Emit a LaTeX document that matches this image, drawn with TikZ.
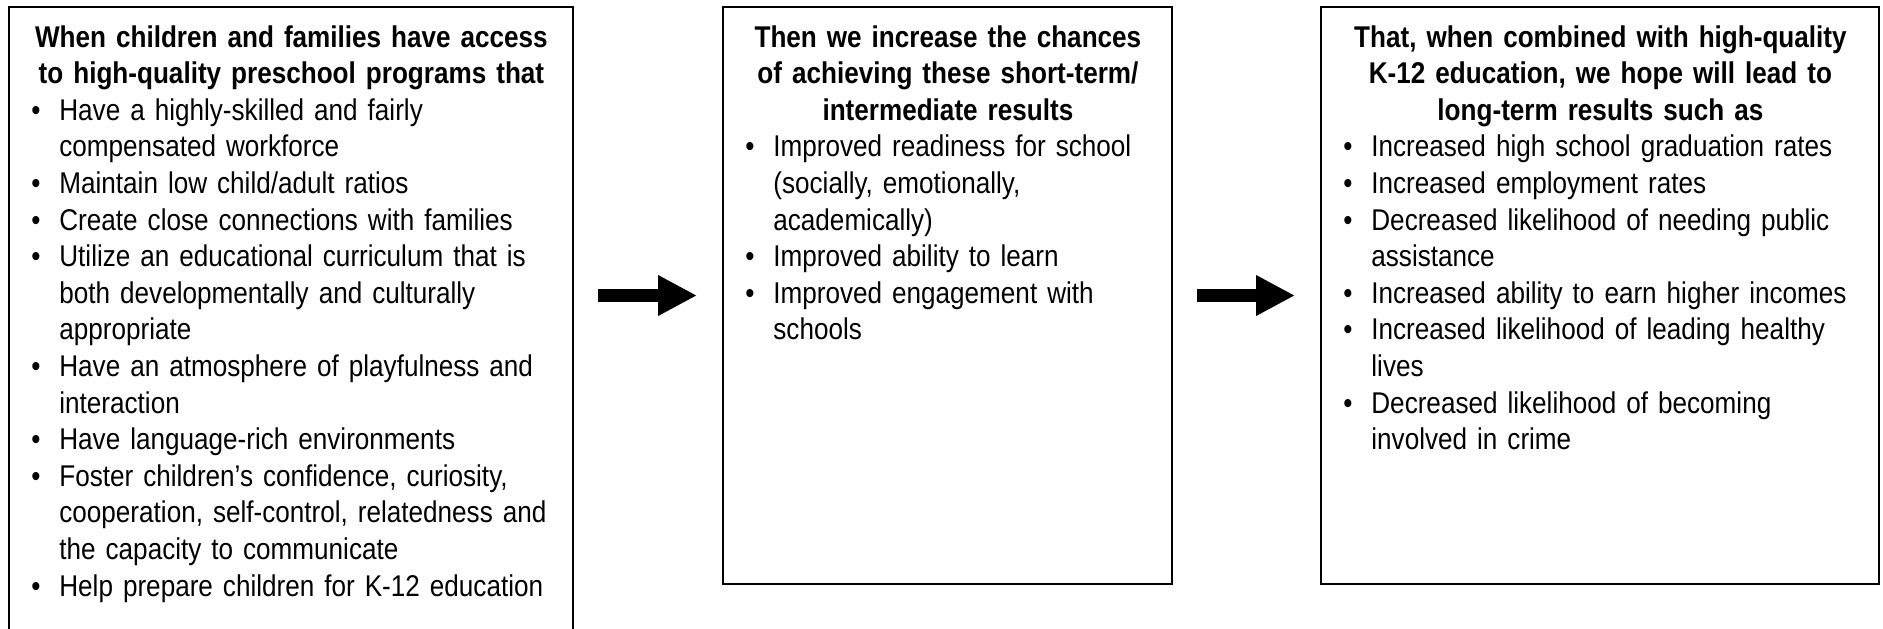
\documentclass[tikz,border=0pt]{standalone}
\usepackage{fontspec}
\setmainfont{Liberation Sans}[FakeStretch=0.87]
\usetikzlibrary{arrows.meta,positioning}
\newcommand{\bul}{\par\hangindent=25pt\hangafter=1\noindent\makebox[25pt][l]{\hspace{11pt}\textbullet}}
\newcommand{\nl}{\hfil\break}

\begin{document}
\begin{tikzpicture}[x=0.5pt,y=-0.5pt,
    panel/.style={draw,line width=1pt,inner sep=0pt,outer sep=0pt,anchor=north west},
    body/.style={anchor=base west,inner sep=0pt,text width=#1,align=left,
        font=\fontsize{15pt}{18.3pt}\selectfont},
    bigarrow/.style={line width=6.5pt,-{Triangle[length=19.5pt,width=19pt]},
        shorten <=12.5pt,shorten >=13pt}]
    \useasboundingbox (0,0) rectangle (1883,628);
    % Boxes
    \node[panel,minimum width=282pt,minimum height=312.5pt] (lbox) at (9,7) {};
    \node[panel,minimum width=224.5pt,minimum height=288.5pt] (mbox) at (723,7) {};
    \node[panel,minimum width=279pt,minimum height=288.5pt] (rbox) at (1321,7) {};

    % Box texts
    \node[body=282pt] (ltext) at ([yshift=-20pt]lbox.north west) {%
        {\centering\bfseries When children and families have access\\
        to high-quality preschool programs that\par}
        \bul Have a highly-skilled and fairly\nl compensated workforce
        \bul Maintain low child/adult ratios
        \bul Create close connections with families
        \bul Utilize an educational curriculum that is\nl both developmentally and culturally\nl appropriate
        \bul Have an atmosphere of playfulness and\nl interaction
        \bul Have language-rich environments
        \bul Foster children’s confidence, curiosity,\nl cooperation, self-control, relatedness and\nl the capacity to communicate
        \bul Help prepare children for K-12 education\par};
    \node[body=224.5pt] (mtext) at ([yshift=-20pt]mbox.north west) {%
        {\centering\bfseries Then we increase the chances\\
        of achieving these short-term/\\
        intermediate results\par}
        \bul Improved readiness for school\nl (socially, emotionally,\nl academically)
        \bul Improved ability to learn
        \bul Improved engagement with\nl schools\par};
    \node[body=279pt] (rtext) at ([yshift=-20pt]rbox.north west) {%
        {\centering\bfseries That, when combined with high-quality\\
        K-12 education, we hope will lead to\\
        long-term results such as\par}
        \bul Increased high school graduation rates
        \bul Increased employment rates
        \bul Decreased likelihood of needing public\nl assistance
        \bul Increased ability to earn higher incomes
        \bul Increased likelihood of leading healthy\nl lives
        \bul Decreased likelihood of becoming\nl involved in crime\par};

    % Arrows
    \path[bigarrow]
        (lbox.east |- mbox.west) edge (mbox.west)
        (mbox.east) edge (rbox.west);
\end{tikzpicture}
\end{document}
